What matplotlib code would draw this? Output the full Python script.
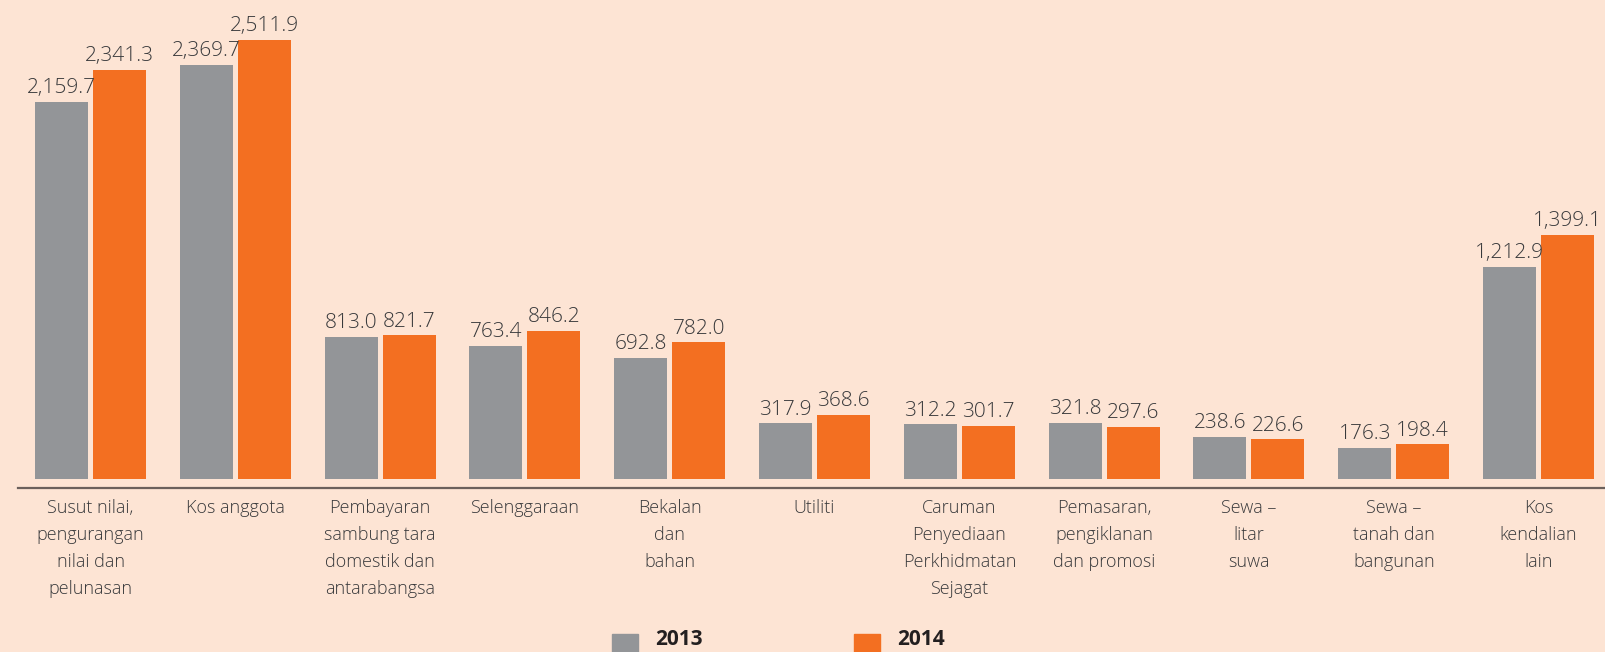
import numpy as np
import matplotlib.pyplot as plt
from matplotlib.patches import Rectangle

categories = [
    "Susut nilai,\npengurangan\nnilai dan\npelunasan",
    "Kos anggota",
    "Pembayaran\nsambung tara\ndomestik dan\nantarabangsa",
    "Selenggaraan",
    "Bekalan\ndan\nbahan",
    "Utiliti",
    "Caruman\nPenyediaan\nPerkhidmatan\nSejagat",
    "Pemasaran,\npengiklanan\ndan promosi",
    "Sewa –\nlitar\nsuwa",
    "Sewa –\ntanah dan\nbangunan",
    "Kos\nkendalian\nlain",
]
values_2013 = [2159.7, 2369.7, 813.0, 763.4, 692.8, 317.9, 312.2, 321.8, 238.6, 176.3, 1212.9]
values_2014 = [2341.3, 2511.9, 821.7, 846.2, 782.0, 368.6, 301.7, 297.6, 226.6, 198.4, 1399.1]
years = ["2013", "2014"]

BG = "#fde4d4"
GREY = "#939598"
ORANGE = "#f36f21"
TXT = "#38393b"
FONT = "Open Sans"

W, H = 1605, 652
fig = plt.figure(figsize=(W / 100, H / 100), dpi=100, facecolor=BG)
ax = fig.add_axes([18 / W, (H - 488) / H, (W - 18) / W, 488 / H])
ax.set_facecolor(BG)

x = np.arange(len(categories))
bw = 0.366
off = 0.2
b1 = ax.bar(x - off, values_2013, bw, color=GREY)
b2 = ax.bar(x + off, values_2014, bw, color=ORANGE)

for bars, vals in ((b1, values_2013), (b2, values_2014)):
    for r, v in zip(bars, vals):
        ax.text(r.get_x() + r.get_width() / 2, v + 22, f"{v:,.1f}",
                ha="center", va="bottom", fontsize=15, color=TXT,
                family=FONT, fontweight="light")

ax.set_xlim(-0.5007, 10.459)
ax.set_ylim(-51.5, 2742)
ax.set_xticks(x)
ax.set_xticklabels(categories, fontsize=13, color=TXT, family=FONT,
                   fontweight="light", linespacing=1.65)
ax.tick_params(axis="x", length=0, pad=8)
ax.set_yticks([])
for s in ("top", "left", "right"):
    ax.spines[s].set_visible(False)
ax.spines["bottom"].set_color("#6b605c")
ax.spines["bottom"].set_linewidth(1.6)

# legend along the bottom edge
for left, col, yr in ((612, GREY, years[0]), (854, ORANGE, years[1])):
    fig.patches.append(Rectangle((left / W, 0), 26 / W, (H - 634) / H,
                                 transform=fig.transFigure, color=col))
    fig.text((left + 43) / W, 2 / H, yr, ha="left", va="bottom",
             fontsize=15, fontweight="bold", color="#231f20", family=FONT)

fig.savefig("out.png", dpi=100, facecolor=BG)
